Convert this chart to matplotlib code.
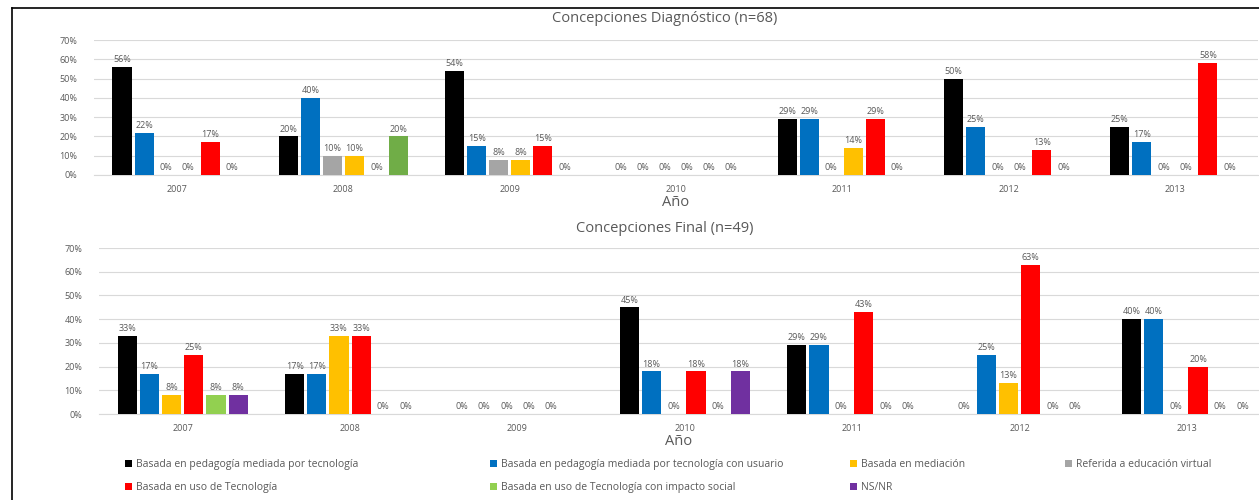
import numpy as np
import matplotlib.pyplot as plt
from matplotlib.lines import Line2D
from matplotlib.patches import Patch

plt.rcParams["font.family"] = ["Open Sans", "DejaVu Sans"]

years = ["2007", "2008", "2009", "2010", "2011", "2012", "2013"]

# series names
s_ped = "Basada en pedagogía mediada por tecnología"
s_ped_usr = "Basada en pedagogía mediada por tecnología con usuario"
s_med = "Basada en mediación"
s_virt = "Referida a educación virtual"
s_uso = "Basada en uso de Tecnología"
s_uso_soc = "Basada en uso de Tecnología con impacto social"
s_nsnr = "NS/NR"

# Concepciones Diagnóstico (n=68), percent
diag_ped = [56, 20, 54, 0, 29, 50, 25]
diag_ped_usr = [22, 40, 15, 0, 29, 25, 17]
diag_virt = [0, 10, 8, 0, 0, 0, 0]
diag_med = [0, 10, 8, 0, 14, 0, 0]
diag_uso = [17, 0, 15, 0, 29, 13, 58]
diag_uso_soc = [0, 20, 0, 0, 0, 0, 0]

# Concepciones Final (n=49), percent
fin_ped = [33, 17, 0, 45, 29, 0, 40]
fin_ped_usr = [17, 17, 0, 18, 29, 25, 40]
fin_med = [8, 33, 0, 0, 0, 13, 0]
fin_uso = [25, 33, 0, 18, 43, 63, 20]
fin_uso_soc = [8, 0, 0, 0, 0, 0, 0]
fin_nsnr = [8, 0, np.nan, 18, 0, 0, 0]

c_black = "#000000"
c_blue = "#0070C0"
c_gray = "#A5A5A5"
c_yellow = "#FFC000"
c_red = "#FF0000"
c_green = "#70AD47"
c_lgreen = "#92D050"
c_purple = "#7030A0"
txt = "#595959"

diag = [(diag_ped, c_black), (diag_ped_usr, c_blue), (diag_virt, c_gray),
        (diag_med, c_yellow), (diag_uso, c_red), (diag_uso_soc, c_green)]
fin = [(fin_ped, c_black), (fin_ped_usr, c_blue), (fin_med, c_yellow),
       (fin_uso, c_red), (fin_uso_soc, c_lgreen), (fin_nsnr, c_purple)]

W, H = 1259, 500
fig = plt.figure(figsize=(W / 100, H / 100), dpi=100)


def draw(ax, series, xmax):
    x = np.arange(len(years))
    step, width = 0.1325, 0.115
    n = len(series)
    for i, (vals, col) in enumerate(series):
        v = np.array(vals, dtype=float) / 100
        pos = x + (i - (n - 1) / 2) * step
        ax.bar(pos, v, width, color=col, zorder=3)
        for px, pv in zip(pos, v):
            if np.isnan(pv):
                continue
            ax.annotate(f"{pv * 100:.0f}%", (px, pv), xytext=(0, 2),
                        textcoords="offset points", ha="center", va="bottom",
                        fontsize=6.5, color=txt)
    ax.set_xlim(-0.5, xmax)
    ax.set_ylim(0, 0.7)
    ax.set_yticks(np.arange(0, 0.71, 0.1))
    ax.set_yticklabels([f"{t}%" for t in range(0, 71, 10)])
    ax.set_xticks(x)
    ax.set_xticklabels(years)
    ax.tick_params(length=0, labelsize=6.5, colors=txt)
    ax.tick_params(axis="y", pad=12)
    ax.tick_params(axis="x", pad=7)
    ax.grid(axis="y", color="#D9D9D9", linewidth=0.8, zorder=0)
    for s in ["top", "right", "left"]:
        ax.spines[s].set_visible(False)
    ax.spines["bottom"].set_color("#D9D9D9")
    ax.set_xlabel("Año", fontsize=10.5, color=txt, labelpad=1)


ax1 = fig.add_axes([94 / W, 1 - 175 / H, (1258 - 94) / W, 135 / H])
draw(ax1, diag, 6.5)
fig.text(665 / W, 1 - 18 / H, "Concepciones Diagnóstico (n=68)", ha="center",
         va="center", fontsize=10.5, color=txt)

ax2 = fig.add_axes([99 / W, 1 - 414 / H, (W - 99) / W, 166 / H])
draw(ax2, fin, 6.43)
fig.text(665 / W, 1 - 228 / H, "Concepciones Final (n=49)", ha="center",
         va="center", fontsize=10.5, color=txt)

# legend, laid out in columns like the original
cols = [
    (125, [(s_ped, c_black), (s_uso, c_red)]),
    (490, [(s_ped_usr, c_blue), (s_uso_soc, c_lgreen)]),
    (850, [(s_med, c_yellow), (s_nsnr, c_purple)]),
    (1065, [(s_virt, c_gray)]),
]
for x0, items in cols:
    handles = [Patch(facecolor=c, edgecolor="none") for _, c in items]
    fig.legend(handles, [n for n, _ in items], loc="upper left",
               bbox_to_anchor=(x0 / W, 1 - 459 / H), frameon=False,
               fontsize=7.5, labelcolor=txt, handlelength=0.7,
               handleheight=0.7, handletextpad=0.4, labelspacing=1.15,
               borderpad=0, borderaxespad=0)

# outer frame
fig.add_artist(Line2D([12 / W, 12 / W], [0, 1 - 8 / H], color="black", lw=1.2))
fig.add_artist(Line2D([12 / W, 1], [1 - 8 / H, 1 - 8 / H], color="black", lw=1.2))

fig.savefig("out.png", dpi=100)
